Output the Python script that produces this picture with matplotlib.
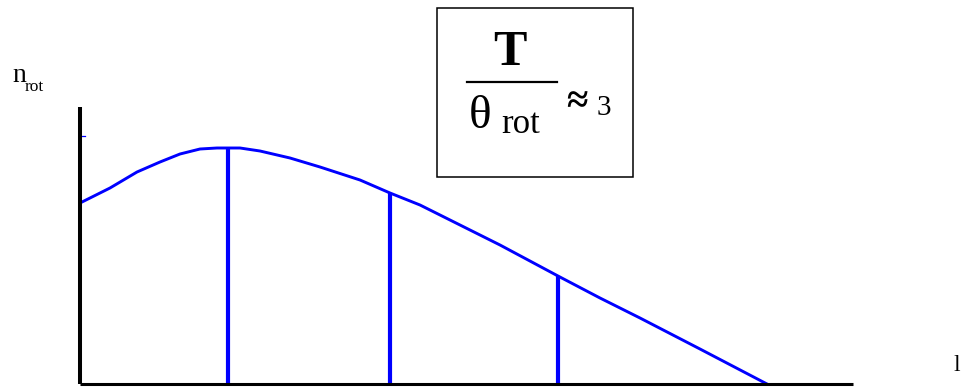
import matplotlib
matplotlib.use("Agg")
import matplotlib.pyplot as plt
from matplotlib.patches import Rectangle

# Rotational population curve n_rot(l), arbitrary units
l_curve = [0.0, 3.0, 5.7, 8.0, 10.0, 12.0, 13.7, 16.0, 18.0, 21.0, 24.0, 28.0, 31.0,
           34.0, 42.0, 47.8, 52.0, 56.0, 62.0, 68.7]
n_curve = [18.1, 19.6, 21.2, 22.2, 23.0, 23.5, 23.6, 23.6, 23.3, 22.6, 21.7, 20.4, 19.1,
           17.9, 13.9, 10.8, 8.6, 6.6, 3.5, 0.0]

# Discrete levels marked with vertical lines
l_levels = [14.8, 31.0, 47.8]
n_levels = [23.6, 19.1, 10.8]

# Axis extents
l_max = 77.3
n_max = 27.7
n_tick = 24.8

W, H = 968, 388
fig = plt.figure(figsize=(W / 100, H / 100), dpi=100)
ax = fig.add_axes([0, 0, 1, 1])
ax.set_xlim(-8.0, 88.8)
ax.set_ylim(-0.4, 38.4)
ax.set_axis_off()

blue = "#0000ff"
serif = ["Liberation Serif", "DejaVu Serif"]

# axes drawn as heavy black lines
ax.plot([0, 0], [0, n_max], color="black", lw=2.9, solid_capstyle="butt", zorder=3)
ax.plot([0, l_max], [0, 0], color="black", lw=2.2, solid_capstyle="butt", zorder=3)
ax.plot([0, 0.5], [n_tick, n_tick], color=blue, lw=0.9, zorder=2)

# distribution curve and level lines
ax.plot(l_curve, n_curve, color=blue, lw=2.1, zorder=2, solid_joinstyle="round")
ax.vlines(l_levels, 0, n_levels, color=blue, lw=3.0, zorder=2)

def fx(px):
    return px / W

def fy(py):
    return 1 - py / H

# axis labels
fig.text(fx(12), fy(82), "n", fontsize=20, family=serif, ha="left", va="baseline")
fig.text(fx(25), fy(91), "rot", fontsize=12.5, family=serif, ha="left", va="baseline")
fig.text(fx(953), fy(371), "l", fontsize=17, family=serif, ha="left", va="baseline")

# boxed ratio T / theta_rot ~ 3
fig.patches.append(Rectangle((fx(437), fy(177)), fx(633) - fx(437), fy(8) - fy(177),
                             transform=fig.transFigure, fill=False, ec="black", lw=1.1))
fig.text(fx(510), fy(65), "T", fontsize=36, family=serif, weight="bold", ha="center", va="baseline")
fig.lines.append(plt.Line2D([fx(467), fx(557)], [fy(82), fy(82)], transform=fig.transFigure,
                            color="black", lw=1.6))
fig.text(fx(469), fy(128), "θ", fontsize=34, family=serif, ha="left", va="baseline")
fig.text(fx(501), fy(133), "rot", fontsize=25, family=serif, ha="left", va="baseline")
fig.text(fx(566), fy(112), "≈", fontsize=28, family=serif, weight="bold", ha="left", va="baseline")
fig.text(fx(597), fy(115), "3", fontsize=21, family=serif, ha="left", va="baseline")

fig.savefig("out.png", dpi=100)
